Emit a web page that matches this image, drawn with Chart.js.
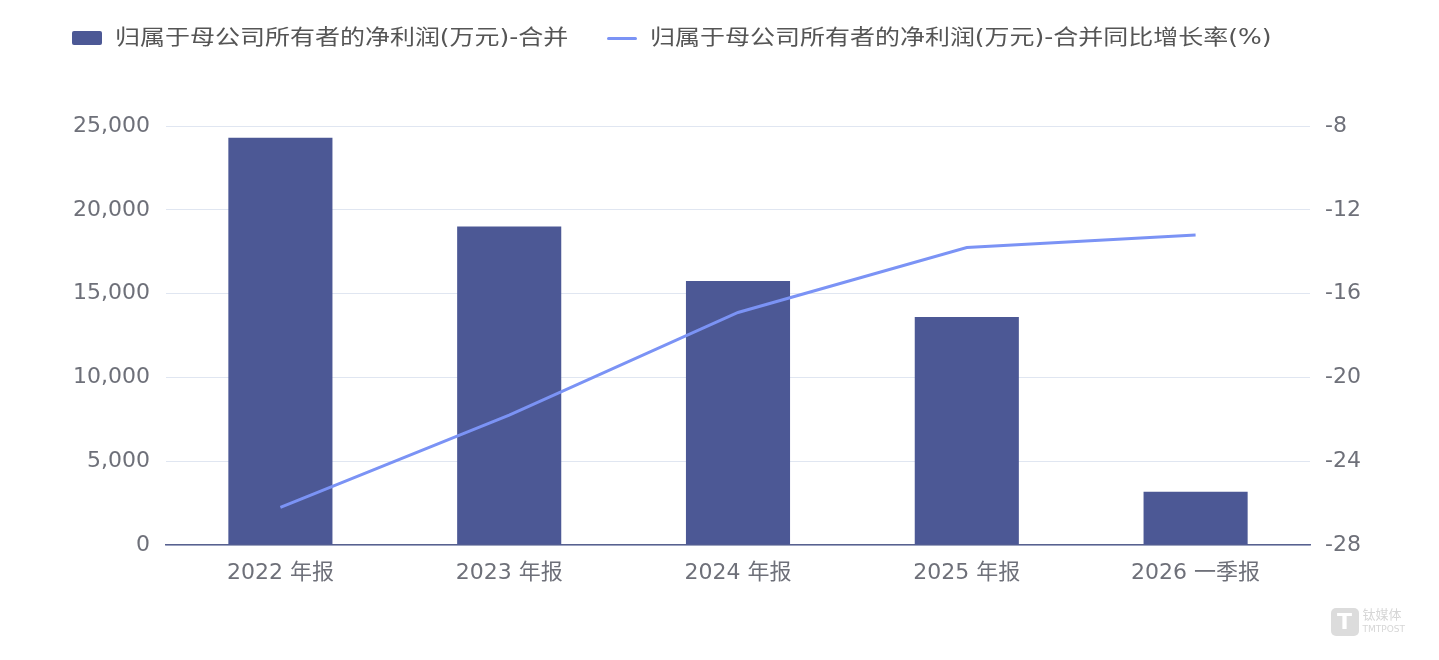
<!DOCTYPE html>
<html>
<head>
<meta charset="utf-8">
<script src="https://cdn.jsdelivr.net/npm/chart.js@4/dist/chart.umd.min.js"></script>
<style>
  html, body { margin: 0; padding: 0; background: #fff; }
  body { width: 1439px; height: 660px; position: relative; overflow: hidden;
         font-family: "DejaVu Sans", "Noto Sans CJK SC", sans-serif; }
  #wrap { position: absolute; left: 0; top: 0; width: 1439px; height: 660px; }
  .legend { position: absolute; top: 22px; font-size: 21px; color: #555; line-height: 30px; white-space: nowrap; }
  .legend span.box { display: inline-block; vertical-align: middle; }
  .legend span.txt { display: inline-block; transform: scaleX(1.19); transform-origin: 0 50%; }
  .mark { position: absolute; right: 34px; bottom: 24px; color: #d6d6d6; font-size: 13px; line-height: 13px; }
  .mark b { display: inline-block; width: 28px; height: 28px; background: #dcdcdc; border-radius: 5px;
            color: #fff; font-size: 22px; line-height: 28px; text-align: center; vertical-align: middle; margin-right: 4px; }
  .mark i { display: inline-block; vertical-align: middle; font-style: normal; }
</style>
</head>
<body>
<div id="wrap"><canvas id="chart"></canvas></div>
<div class="legend" style="left:72px"><span class="box" style="width:30px;height:14px;background:#4c5895;border-radius:2px"></span> <span class="txt" style="margin-left:6px">归属于母公司所有者的净利润(万元)-合并</span></div>
<div class="legend" style="left:607px"><span class="box" style="width:30px;height:3px;background:#7b93f5;border-radius:2px"></span> <span class="txt" style="margin-left:6px">归属于母公司所有者的净利润(万元)-合并同比增长率(%)</span></div>
<div class="mark"><b>T</b><i>钛媒体<br><span style="font-size:9px">TMTPOST</span></i></div>
<script>
(function () {
    'use strict';

    var categories = ['2022 年报', '2023 年报', '2024 年报', '2025 年报', '2026 一季报'];
    var profit = [24300, 19000, 15750, 13600, 3170];
    var growth = [-26.2, -21.8, -16.9, -13.8, -13.2];
    var seriesNames = ['归属于母公司所有者的净利润(万元)-合并', '归属于母公司所有者的净利润(万元)-合并同比增长率(%)'];

    var tickFont = { family: '"DejaVu Sans", "Noto Sans CJK SC", sans-serif', size: 22 };
    var tickColor = '#6e7079';

    var ctx = document.getElementById('chart').getContext('2d');
    new Chart(ctx, {
        data: {
            labels: categories,
            datasets: [{
                type: 'line',
                label: seriesNames[1],
                data: growth,
                yAxisID: 'y1',
                borderColor: '#7b93f5',
                borderWidth: 3,
                pointRadius: 0,
                tension: 0,
                order: 0
            }, {
                type: 'bar',
                label: seriesNames[0],
                data: profit,
                yAxisID: 'y',
                backgroundColor: '#4c5895',
                categoryPercentage: 1,
                barPercentage: 0.455,
                order: 1
            }]
        },
        options: {
            responsive: true,
            maintainAspectRatio: false,
            animation: false,
            layout: { padding: { top: 126, left: 0, right: 0, bottom: 0 } },
            plugins: {
                legend: { display: false },
                tooltip: { enabled: false }
            },
            scales: {
                x: {
                    grid: { display: false },
                    border: { display: true, color: '#58618f', width: 1.5 },
                    ticks: { color: tickColor, font: tickFont, padding: 7, maxRotation: 0 },
                    afterFit: function (s) { s.height = 115; }
                },
                y: {
                    position: 'left',
                    min: 0,
                    max: 25000,
                    grid: { color: '#e0e6f1', drawTicks: false },
                    border: { display: false },
                    ticks: {
                        stepSize: 5000,
                        color: tickColor,
                        font: tickFont,
                        padding: 16,
                        callback: function (v) { return v.toLocaleString('en-US'); }
                    },
                    afterFit: function (s) { s.width = 166; }
                },
                y1: {
                    position: 'right',
                    min: -28,
                    max: -8,
                    grid: { display: false, drawTicks: false },
                    border: { display: false },
                    ticks: { stepSize: 4, color: tickColor, font: tickFont, padding: 15 },
                    afterFit: function (s) { s.width = 129; }
                }
            }
        }
    });
}());
</script>
</body>
</html>
